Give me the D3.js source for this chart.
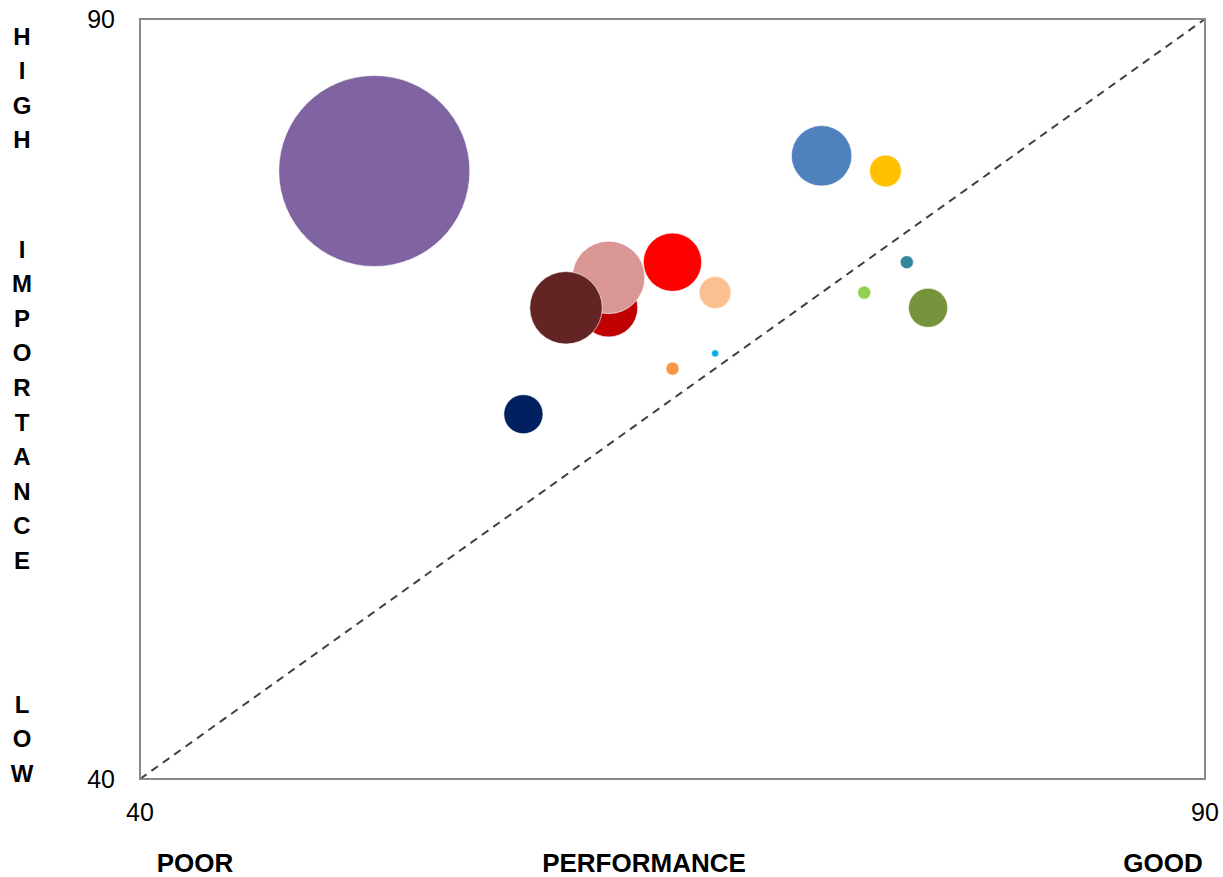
<!DOCTYPE html>
<html>
<head>
<meta charset="utf-8">
<script src="https://cdn.jsdelivr.net/npm/d3@7"></script>
<style>
  body { margin: 0; background: #fff; }
  svg { display: block; font-family: Arial, "Liberation Sans", sans-serif; }
</style>
</head>
<body>
<div id="chart"></div>
<script>
// bubble data: performance (x), importance (y), size (relative area)
const names = ["purple", "blue", "yellow", "teal", "lime", "olive", "red", "peach",
  "darkred", "pink", "brown", "orange", "cyan", "navy"];
const performance = [51, 72, 75, 76, 74, 77, 65, 67, 62, 62, 60, 65, 67, 58];
const importance  = [80, 81, 80, 74, 72, 71, 74, 72, 71, 73, 71, 67, 68, 64];
const sizes       = [100, 10, 2.8, 0.47, 0.47, 4.2, 9.3, 2.8, 9.3, 14.4, 14.4, 0.47, 0.14, 4.2];
const colors = ["#8064A2", "#4F81BD", "#FFC000", "#31859C", "#92D050", "#77933C", "#FF0000",
  "#FAC090", "#C00000", "#D99694", "#632523", "#F79646", "#00B0F0", "#002060"];
const axisMin = 40, axisMax = 90;
const tickValues = [40, 90];

let width = 1223, height = 877;
let margin = {top: 19, right: 18, bottom: 98, left: 140};

let x = d3.scaleLinear().domain([axisMin, axisMax]).range([margin.left, width - margin.right]);
let y = d3.scaleLinear().domain([axisMin, axisMax]).range([height - margin.bottom, margin.top]);
let r = d3.scaleSqrt().domain([0, 100]).range([0, 95.5]);

let svg = d3.select("#chart").append("svg")
  .attr("width", width).attr("height", height);

// diagonal reference line
svg.append("line")
  .attr("x1", x(axisMin)).attr("y1", y(axisMin))
  .attr("x2", x(axisMax)).attr("y2", y(axisMax))
  .attr("stroke", "#404040").attr("stroke-width", 2)
  .attr("stroke-dasharray", "8,6");

// bubbles
let data = names.map((n, i) => ({name: n, x: performance[i], y: importance[i], s: sizes[i], c: colors[i]}));
svg.append("g").selectAll("circle").data(data).enter().append("circle")
  .attr("cx", d => x(d.x)).attr("cy", d => y(d.y))
  .attr("r", d => r(d.s))
  .attr("fill", d => d.c)
  .attr("stroke", "#fff").attr("stroke-width", 0.6);

// plot frame
svg.append("rect")
  .attr("x", x(axisMin)).attr("y", y(axisMax))
  .attr("width", x(axisMax) - x(axisMin)).attr("height", y(axisMin) - y(axisMax))
  .attr("fill", "none").attr("stroke", "#898989").attr("stroke-width", 2);

// tick labels
svg.append("g").selectAll("text").data(tickValues).enter().append("text")
  .attr("x", margin.left - 25).attr("y", d => y(d) + 9)
  .attr("text-anchor", "end").attr("font-size", 25).attr("fill", "#000")
  .text(d => d);
svg.append("g").selectAll("text").data(tickValues).enter().append("text")
  .attr("x", d => x(d)).attr("y", height - margin.bottom + 42)
  .attr("text-anchor", "middle").attr("font-size", 25).attr("fill", "#000")
  .text(d => d);

// bottom labels
const xLabels = [["POOR", 195], ["PERFORMANCE", 644], ["GOOD", 1163]];
svg.append("g").selectAll("text").data(xLabels).enter().append("text")
  .attr("x", d => d[1]).attr("y", 872)
  .attr("text-anchor", "middle").attr("font-size", 26).attr("font-weight", "bold")
  .text(d => d[0]);

// vertical letters on the left
const yWords = [["HIGH", 36], ["IMPORTANCE", 249], ["LOW", 704]];
const step = 34.6;
yWords.forEach(w => {
  svg.append("g").selectAll("text").data(w[0].split("")).enter().append("text")
    .attr("x", 22).attr("y", (d, i) => w[1] + i * step + 8.5)
    .attr("text-anchor", "middle").attr("font-size", 24).attr("font-weight", "bold")
    .text(d => d);
});
</script>
</body>
</html>
